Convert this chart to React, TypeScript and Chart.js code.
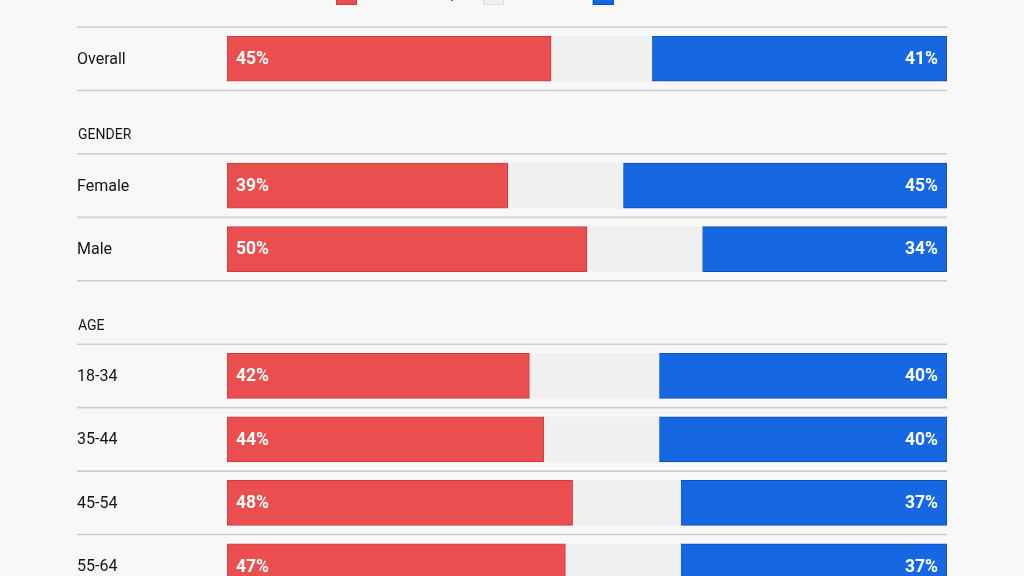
import React, { useEffect, useRef } from "react";
import { Chart, registerables } from "chart.js";

Chart.register(...registerables);

const categories = ["Overall", "GENDER", "Female", "Male", "AGE", "18-34", "35-44", "45-54", "55-64"];
const headingRows = ["GENDER", "AGE"];
const trumpValues = [45, null, 39, 50, null, 42, 44, 48, 47];
const bidenValues = [41, null, 45, 34, null, 40, 40, 37, 37];
const undecidedValues = trumpValues.map((t, i) =>
  t === null || bidenValues[i] === null ? null : 100 - (t as number) - (bidenValues[i] as number)
);
const seriesLabels = ["Donald Trump", "Not sure", "Joe Biden"];
const seriesColors = ["#EB4E4E", "#F0F0F0", "#1567E2"];
const seriesBorders = ["#D03A3A", "#DDDDDD", "#0D4FB5"];

const FONT = "Roboto, 'Noto Sans', sans-serif";

const customPlugin = {
  id: "custom",
  beforeDatasetsDraw(chart: any) {
    const { ctx, chartArea } = chart;
    const n = categories.length;
    const rowH = (chartArea.bottom - chartArea.top) / n;
    ctx.save();
    ctx.strokeStyle = "#CFCFCF";
    ctx.lineWidth = 1.6;
    for (let i = 0; i <= n; i++) {
      const y = chartArea.top + i * rowH;
      ctx.beginPath();
      ctx.moveTo(77, y);
      ctx.lineTo(chartArea.right, y);
      ctx.stroke();
    }
    ctx.fillStyle = "#161616";
    ctx.textAlign = "left";
    ctx.textBaseline = "middle";
    categories.forEach((c, i) => {
      const top = chartArea.top + i * rowH;
      if (headingRows.includes(c)) {
        ctx.font = `14px ${FONT}`;
        ctx.fillText(c, 78, top + rowH - 18);
      } else {
        ctx.font = `16px ${FONT}`;
        ctx.fillText(c, 77, top + rowH / 2 + 1);
      }
    });
    ctx.restore();
  },
  afterDatasetsDraw(chart: any) {
    const { ctx } = chart;
    ctx.save();
    ctx.fillStyle = "#FFFFFF";
    ctx.font = `bold 17.5px ${FONT}`;
    ctx.textBaseline = "middle";
    const m0 = chart.getDatasetMeta(0);
    m0.data.forEach((bar: any, i: number) => {
      const v = trumpValues[i];
      if (v === null) return;
      ctx.textAlign = "left";
      ctx.fillText(`${v}%`, bar.base + 9, bar.y + 1);
    });
    const m2 = chart.getDatasetMeta(2);
    m2.data.forEach((bar: any, i: number) => {
      const v = bidenValues[i];
      if (v === null) return;
      ctx.textAlign = "right";
      ctx.fillText(`${v}%`, bar.x - 9, bar.y + 1);
    });
    // legend
    ctx.font = `15px ${FONT}`;
    const box = 21;
    const gapText = 8;
    const gapItem = 24;
    const widths = seriesLabels.map((l) => ctx.measureText(l).width);
    const total = widths.reduce((a, b) => a + b, 0) + seriesLabels.length * (box + gapText) + gapItem * (seriesLabels.length - 1);
    let x = Math.round(chart.width / 2 - total / 2);
    const ly = 34.5;
    seriesLabels.forEach((l, i) => {
      ctx.fillStyle = seriesColors[i];
      ctx.fillRect(x, ly - box / 2, box, box);
      ctx.strokeStyle = seriesBorders[i];
      ctx.lineWidth = 1;
      ctx.strokeRect(x + 0.5, ly - box / 2 + 0.5, box - 1, box - 1);
      ctx.fillStyle = "#333";
      ctx.textAlign = "left";
      ctx.fillText(l, x + box + gapText, ly);
      x += box + gapText + widths[i] + gapItem;
    });
    ctx.restore();
  },
};

export default function App() {
  const ref = useRef<HTMLCanvasElement>(null);
  useEffect(() => {
    if (!ref.current) return;
    const chart = new Chart(ref.current, {
      type: "bar",
      data: {
        labels: categories,
        datasets: [
          { label: seriesLabels[0], data: trumpValues as any, backgroundColor: seriesColors[0], borderColor: seriesBorders[0], borderWidth: 1, borderSkipped: false },
          { label: seriesLabels[1], data: undecidedValues as any, backgroundColor: seriesColors[1], borderWidth: 0, borderSkipped: false },
          { label: seriesLabels[2], data: bidenValues as any, backgroundColor: seriesColors[2], borderColor: seriesBorders[2], borderWidth: 1, borderSkipped: false },
        ],
      },
      options: {
        indexAxis: "y",
        responsive: false,
        animation: false,
        devicePixelRatio: 1,
        layout: { padding: { top: 67, left: 227, right: 77, bottom: 42 } },
        datasets: { bar: { barThickness: 45 } },
        scales: {
          x: { stacked: true, min: 0, max: 100, display: false },
          y: { stacked: true, display: false },
        },
        plugins: { legend: { display: false }, tooltip: { enabled: false } },
      },
      plugins: [customPlugin],
    });
    return () => chart.destroy();
  }, []);
  return (
    <div style={{ position: "fixed", inset: 0, background: "#F8F8F8", overflow: "hidden" }}>
      <canvas ref={ref} width={1024} height={680} style={{ position: "absolute", left: 0, top: -40 }} />
    </div>
  );
}
